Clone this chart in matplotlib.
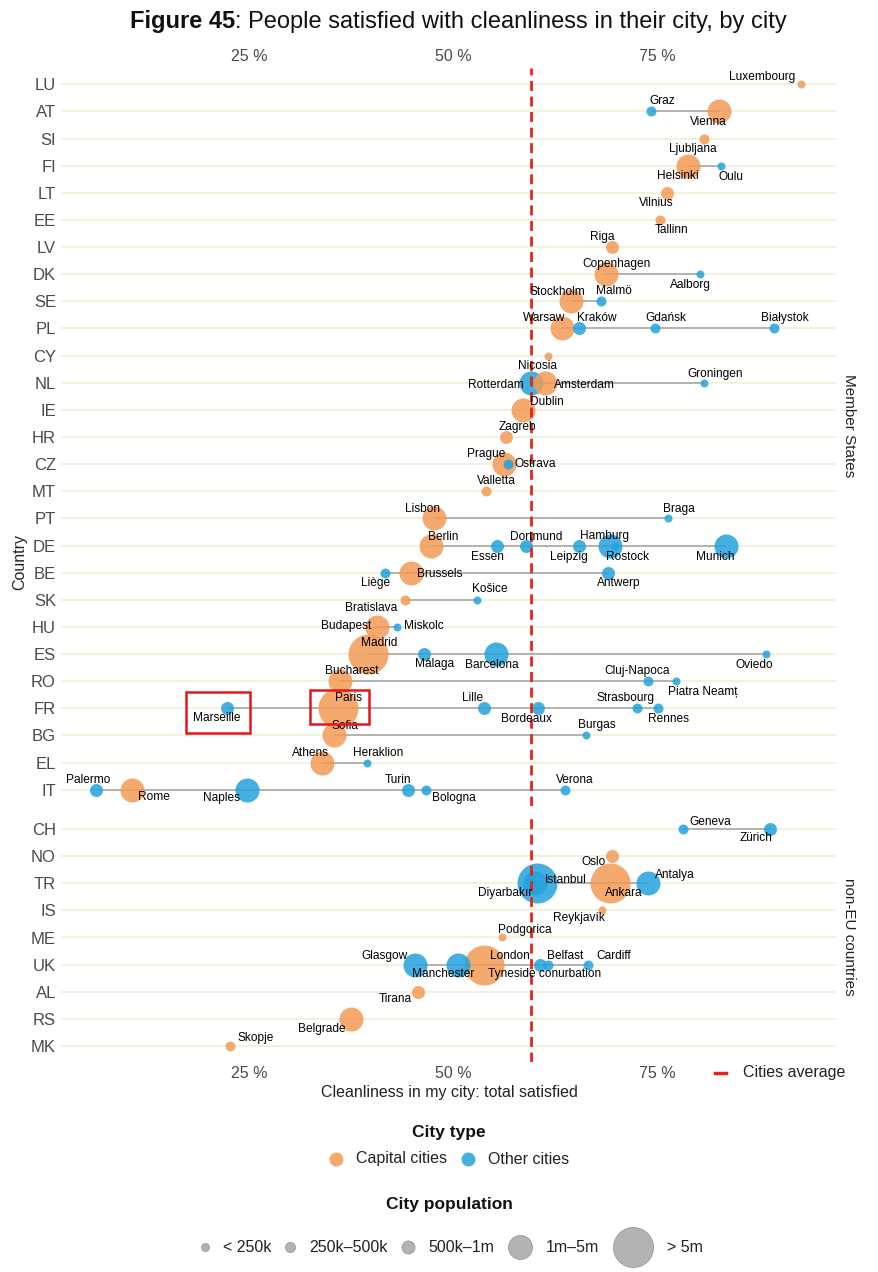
import matplotlib
matplotlib.use("Agg")
import matplotlib.pyplot as plt
from matplotlib.patches import Rectangle
from matplotlib.transforms import IdentityTransform

plt.rcParams['font.family'] = ['Liberation Sans', 'DejaVu Sans']

# ---------------- data ----------------
eu_countries = ['LU', 'AT', 'SI', 'FI', 'LT', 'EE', 'LV', 'DK', 'SE', 'PL', 'CY', 'NL', 'IE', 'HR',
                'CZ', 'MT', 'PT', 'DE', 'BE', 'SK', 'HU', 'ES', 'RO', 'FR', 'BG', 'EL', 'IT']
non_eu_countries = ['CH', 'NO', 'TR', 'IS', 'ME', 'UK', 'AL', 'RS', 'MK']

city_names = ['Luxembourg', 'Graz', 'Vienna', 'Ljubljana', 'Helsinki', 'Oulu', 'Vilnius', 'Tallinn',
              'Riga', 'Copenhagen', 'Aalborg', 'Stockholm', 'Malmö', 'Warsaw', 'Kraków', 'Gdańsk',
              'Białystok', 'Nicosia', 'Rotterdam', 'Amsterdam', 'Groningen', 'Dublin', 'Zagreb',
              'Prague', 'Ostrava', 'Valletta', 'Lisbon', 'Braga', 'Berlin', 'Essen', 'Dortmund',
              'Leipzig', 'Hamburg', 'Rostock', 'Munich', 'Liège', 'Brussels', 'Antwerp', 'Bratislava',
              'Košice', 'Budapest', 'Miskolc', 'Madrid', 'Málaga', 'Barcelona', 'Oviedo', 'Bucharest',
              'Cluj-Napoca', 'Piatra Neamț', 'Marseille', 'Paris', 'Lille', 'Bordeaux', 'Strasbourg',
              'Rennes', 'Sofia', 'Burgas', 'Athens', 'Heraklion', 'Palermo', 'Rome', 'Naples', 'Turin',
              'Bologna', 'Verona',
              'Geneva', 'Zürich', 'Oslo', 'Istanbul', 'Diyarbakır', 'Ankara', 'Antalya', 'Reykjavík',
              'Podgorica', 'Glasgow', 'Manchester', 'London', 'Tyneside conurbation', 'Belfast',
              'Cardiff', 'Tirana', 'Belgrade', 'Skopje']
city_country = ['LU', 'AT', 'AT', 'SI', 'FI', 'FI', 'LT', 'EE',
                'LV', 'DK', 'DK', 'SE', 'SE', 'PL', 'PL', 'PL',
                'PL', 'CY', 'NL', 'NL', 'NL', 'IE', 'HR',
                'CZ', 'CZ', 'MT', 'PT', 'PT', 'DE', 'DE', 'DE',
                'DE', 'DE', 'DE', 'DE', 'BE', 'BE', 'BE', 'SK',
                'SK', 'HU', 'HU', 'ES', 'ES', 'ES', 'ES', 'RO',
                'RO', 'RO', 'FR', 'FR', 'FR', 'FR', 'FR',
                'FR', 'BG', 'BG', 'EL', 'EL', 'IT', 'IT', 'IT', 'IT',
                'IT', 'IT',
                'CH', 'CH', 'NO', 'TR', 'TR', 'TR', 'TR', 'IS',
                'ME', 'UK', 'UK', 'UK', 'UK', 'UK',
                'UK', 'AL', 'RS', 'MK']
city_value = [92.7, 74.3, 82.6, 80.7, 78.8, 82.8, 76.2, 75.4,
              69.5, 68.7, 80.3, 64.4, 68.1, 63.4, 65.4, 74.8,
              89.3, 61.6, 59.6, 61.3, 80.8, 58.6, 56.5,
              56.3, 56.8, 54.0, 47.7, 76.3, 47.3, 55.4, 58.9,
              65.4, 69.2, 69.9, 83.4, 41.7, 44.8, 69.0, 44.1,
              52.9, 40.7, 43.1, 39.6, 46.4, 55.3, 88.3, 36.2,
              73.9, 77.3, 22.3, 35.9, 53.8, 60.4, 72.6,
              75.1, 35.4, 66.3, 33.9, 39.5, 6.3, 10.7, 24.7, 44.5,
              46.7, 63.7,
              78.2, 88.9, 69.5, 60.3, 60.0, 69.2, 73.9, 68.3,
              56.0, 45.3, 50.6, 53.8, 60.7, 61.7,
              66.6, 45.7, 37.5, 22.7]
# 1 = capital city, 0 = other city
city_capital = [1, 0, 1, 1, 1, 0, 1, 1,
                1, 1, 0, 1, 0, 1, 0, 0,
                0, 1, 0, 1, 0, 1, 1,
                1, 0, 1, 1, 0, 1, 0, 0,
                0, 0, 0, 0, 0, 1, 0, 1,
                0, 1, 0, 1, 0, 0, 0, 1,
                0, 0, 0, 1, 0, 0, 0,
                0, 1, 0, 1, 0, 0, 1, 0, 0,
                0, 0,
                0, 0, 1, 0, 0, 1, 0, 1,
                1, 0, 0, 1, 0, 0,
                0, 1, 1, 1]
# population class index into pop_labels
city_pop = [0, 1, 3, 1, 3, 0, 2, 1,
            2, 3, 0, 3, 1, 3, 2, 1,
            1, 0, 3, 3, 0, 3, 2,
            3, 1, 1, 3, 0, 3, 2, 2,
            2, 3, 0, 3, 1, 3, 2, 1,
            0, 3, 0, 4, 2, 3, 0, 3,
            1, 0, 2, 4, 2, 2, 1,
            1, 3, 0, 3, 0, 2, 3, 3, 2,
            1, 1,
            1, 2, 2, 4, 3, 4, 3, 0,
            0, 3, 3, 4, 2, 1,
            1, 2, 3, 1]
pop_labels = ['< 250k', '250k–500k', '500k–1m', '1m–5m', '> 5m']
type_labels = ['Capital cities', 'Other cities']
x_ticks = [25, 50, 75]
x_ticklabels = ['25 %', '50 %', '75 %']
cities_average = 59.6

# ---------------- styles ----------------
W, H, DPI = 879, 1272, 100
ORANGE = '#F39A55'
BLUE = '#23A3DC'
RED = '#E3261B'
GRID = '#EEEED6'
SEG = '#A8A8A0'
pop_radius_px = [4, 5, 6.5, 12, 20]

# label offsets (pixels, dx right, dy down) relative to the point
label_off = {
    'Luxembourg': (-39, -7), 'Graz': (11, -10), 'Vienna': (-11, 11), 'Ljubljana': (-11, 10),
    'Helsinki': (-10, 10), 'Oulu': (10, 11), 'Vilnius': (-11, 10), 'Tallinn': (11, 10),
    'Riga': (-10, -10), 'Copenhagen': (11, -10), 'Aalborg': (-10, 11), 'Stockholm': (-13, -9),
    'Malmö': (13, -10), 'Warsaw': (-18, -10), 'Kraków': (18, -10), 'Gdańsk': (11, -10),
    'Białystok': (11, -10), 'Nicosia': (-10, 10), 'Rotterdam': (-35, 2), 'Amsterdam': (39, 2),
    'Groningen': (11, -9), 'Dublin': (24, -8), 'Zagreb': (11, -10), 'Prague': (-18, -10),
    'Ostrava': (27, 0), 'Valletta': (11, -10), 'Lisbon': (-12, -9), 'Braga': (11, -9),
    'Berlin': (12, -9), 'Essen': (-10, 11), 'Dortmund': (11, -9), 'Leipzig': (-10, 11),
    'Hamburg': (-5, -10), 'Rostock': (12, 11), 'Munich': (-10, 11), 'Liège': (-10, 10),
    'Brussels': (29, 1), 'Antwerp': (11, 10), 'Bratislava': (-34, 8), 'Košice': (13, -11),
    'Budapest': (-31, -1), 'Miskolc': (27, -1), 'Madrid': (11, -11), 'Málaga': (11, 10),
    'Barcelona': (-4, 11), 'Oviedo': (-11, 11), 'Bucharest': (11, -10), 'Cluj-Napoca': (-11, -10),
    'Piatra Neamț': (27, 11), 'Marseille': (-10, 10), 'Paris': (11, -10), 'Lille': (-11, -10),
    'Bordeaux': (-11, 11), 'Strasbourg': (-12, -10), 'Rennes': (11, 11), 'Sofia': (11, -9),
    'Burgas': (11, -10), 'Athens': (-11, -10), 'Heraklion': (11, -10), 'Palermo': (-8, -10),
    'Rome': (22, 7), 'Naples': (-25, 8), 'Turin': (-10, -10), 'Bologna': (28, 8), 'Verona': (10, -10),
    'Geneva': (27, -7), 'Zürich': (-14, 9), 'Oslo': (-18, 6), 'Istanbul': (29, -3),
    'Diyarbakır': (-29, 10), 'Ankara': (14, 10), 'Antalya': (27, -8), 'Reykjavík': (-23, 8),
    'Podgorica': (23, -8), 'Glasgow': (-30, -9), 'Manchester': (-15, 9), 'London': (26, -9),
    'Tyneside conurbation': (4, 9), 'Belfast': (17, -9), 'Cardiff': (25, -9), 'Tirana': (-23, 7),
    'Belgrade': (-29, 10), 'Skopje': (25, -8),
}
# highlight boxes around cities: (left, right, top, bottom) pixel extents relative to point
highlight = {'Marseille': (-41, 23, -16, 25), 'Paris': (-28, 31, -18, 16)}

fig = plt.figure(figsize=(W / DPI, H / DPI), dpi=DPI)
fig.patch.set_facecolor('white')


def fx(px):
    return px / W


def fy(py):
    return 1 - py / H


AX_L, AX_R = 61.5, 836
ax_top = fig.add_axes([fx(AX_L), fy(806), fx(AX_R - AX_L), (806 - 68) / H])
ax_bot = fig.add_axes([fx(AX_L), fy(1062), fx(AX_R - AX_L), (1062 - 813) / H])

XLIM = ((AX_L - 45) / 8.16, (AX_R - 45) / 8.16)


def size_pts(r):
    return (2 * r * 72 / DPI) ** 2


def draw_panel(ax, countries):
    row = {c: i for i, c in enumerate(countries)}
    idx = [i for i, c in enumerate(city_country) if c in row]
    ax.set_xlim(*XLIM)
    ax.set_ylim(len(countries) - 0.4, -0.6)
    ax.set_yticks(range(len(countries)))
    ax.set_yticklabels(countries)
    ax.grid(axis='y', color=GRID, lw=1.1, zorder=0)
    ax.set_axisbelow(True)
    for s in ax.spines.values():
        s.set_visible(False)
    ax.tick_params(axis='y', length=0, pad=4, labelsize=12, labelcolor='#4A4A4A')
    ax.set_xticks(x_ticks)
    ax.set_xticklabels(x_ticklabels)
    # segments
    for c in countries:
        vals = [city_value[i] for i in idx if city_country[i] == c]
        if len(vals) > 1:
            ax.hlines(row[c], min(vals), max(vals), color=SEG, lw=1.2, zorder=1)
    # points: big first; same size -> other cities before capitals
    order = sorted(idx, key=lambda i: (-city_pop[i], city_capital[i]))
    for i in order:
        ax.scatter(city_value[i], row[city_country[i]], s=size_pts(pop_radius_px[city_pop[i]]),
                   color=ORANGE if city_capital[i] else BLUE, alpha=0.85, lw=0, zorder=3)
    # average line (above the points)
    ax.axvline(cities_average, color=RED, lw=2, ls=(0, (3.6, 2.0)), zorder=3.5)
    for i in idx:
        dx, dy = label_off.get(city_names[i], (10, -10))
        ax.annotate(city_names[i], (city_value[i], row[city_country[i]]), xytext=(dx, -dy),
                    textcoords='offset pixels', ha='center', va='center', fontsize=8.6,
                    color='black', zorder=4)
    return row


row_top = draw_panel(ax_top, eu_countries)
row_bot = draw_panel(ax_bot, non_eu_countries)
ax_top.tick_params(axis='x', length=0, top=False, labeltop=True, bottom=False, labelbottom=False,
                   pad=3, labelsize=11.5, labelcolor='#4A4A4A')
ax_bot.tick_params(axis='x', length=0, top=False, labeltop=False, bottom=False, labelbottom=True,
                   pad=3, labelsize=11.5, labelcolor='#4A4A4A')

# strip labels
fig.text(fx(849), fy(426), 'Member States', rotation=-90, ha='center', va='center', fontsize=11,
         color='#222222')
fig.text(fx(849), fy(937), 'non-EU countries', rotation=-90, ha='center', va='center', fontsize=11,
         color='#222222')
# axis titles
fig.text(fx(20), fy(562), 'Country', rotation=90, ha='center', va='center', fontsize=11.5,
         color='#222222')
fig.text(fx(449), fy(1093), 'Cleanliness in my city: total satisfied', ha='center', va='center',
         fontsize=11.5, color='#222222')

# highlight boxes
fig.canvas.draw()
for name, (l, r, t, b) in highlight.items():
    i = city_names.index(name)
    ax = ax_top if city_country[i] in row_top else ax_bot
    rows = row_top if city_country[i] in row_top else row_bot
    px, py = ax.transData.transform((city_value[i], rows[city_country[i]]))
    fig.add_artist(Rectangle((px + l, py - b), r - l, b - t, transform=IdentityTransform(),
                             fill=False, ec='#E8161B', lw=1.8, zorder=10))

# title
t1 = fig.text(0, fy(28), 'Figure 45', fontsize=17, fontweight='bold', va='baseline', color='#111111')
t2 = fig.text(0, fy(28), ': People satisfied with cleanliness in their city, by city', fontsize=17,
              va='baseline', color='#111111')
fig.canvas.draw()
rend = fig.canvas.get_renderer()
w1 = t1.get_window_extent(rend).width
w2 = t2.get_window_extent(rend).width
x0 = 458 - (w1 + w2) / 2
t1.set_x(fx(x0))
t2.set_x(fx(x0 + w1))

# ---------------- legends (overlay axes in pixel units) ----------------
lax = fig.add_axes([0, 0, 1, 1], zorder=-1)
lax.set_xlim(0, W)
lax.set_ylim(H, 0)
lax.axis('off')

# cities average
lax.plot([715, 726], [1073, 1073], color=RED, lw=2.5)
lax.text(743, 1073, 'Cities average', fontsize=11.5, va='center', ha='left', color='#222222')

# city type
lax.text(449, 1132, 'City type', fontsize=12.5, fontweight='bold', ha='center', va='center',
         color='#111111')
type_colors = [ORANGE, BLUE]
tmp = [lax.text(0, 0, s, fontsize=11.5) for s in type_labels]
fig.canvas.draw()
tw = [t.get_window_extent(rend).width for t in tmp]
for t in tmp:
    t.remove()
r_t, gap, sp = 7, 13, 14
total = sum(2 * r_t + gap + w for w in tw) + sp * (len(tw) - 1)
x = 449 - total / 2
for lab, w, col in zip(type_labels, tw, type_colors):
    lax.scatter(x + r_t, 1159, s=size_pts(r_t), color=col, alpha=0.85, lw=0)
    lax.text(x + 2 * r_t + gap, 1159, lab, fontsize=11.5, va='center', ha='left', color='#222222')
    x += 2 * r_t + gap + w + sp

# city population
lax.text(449, 1204, 'City population', fontsize=12.5, fontweight='bold', ha='center', va='center',
         color='#111111')
tmp = [lax.text(0, 0, s, fontsize=11.5) for s in pop_labels]
fig.canvas.draw()
tw = [t.get_window_extent(rend).width for t in tmp]
for t in tmp:
    t.remove()
gap, sp = 14, 14
total = sum(2 * r + gap + w for r, w in zip(pop_radius_px, tw)) + sp * (len(tw) - 1)
x = 452 - total / 2
for lab, w, r in zip(pop_labels, tw, pop_radius_px):
    lax.scatter(x + r, 1247, s=size_pts(r), color='#B3B3B3', ec='#999999', lw=0.6)
    lax.text(x + 2 * r + gap, 1247, lab, fontsize=11.5, va='center', ha='left', color='#222222')
    x += 2 * r + gap + w + sp

fig.savefig('out.png', dpi=DPI, facecolor='white')
